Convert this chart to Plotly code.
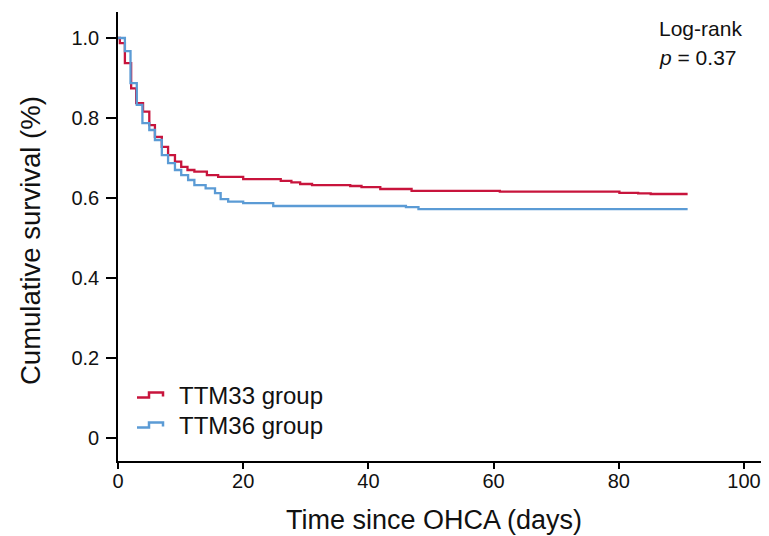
import plotly.graph_objects as go

# ---- data ----
ttm33_days = [0, 0.3, 1.1, 2.1, 2.9, 4.0, 5.0, 5.9, 7.0, 8.0, 9.1, 10.1, 11.1, 12.2, 14.2, 16.0,
              20.0, 26.0, 27.7, 29.1, 31.0, 37.1, 38.9, 41.9, 46.9, 61.0, 80.1, 83.1, 85.1, 91.0]
ttm33_surv = [1.0, 0.987, 0.937, 0.874, 0.837, 0.816, 0.782, 0.753, 0.728, 0.707, 0.691, 0.678, 0.670, 0.666, 0.657, 0.653,
              0.647, 0.643, 0.639, 0.635, 0.632, 0.630, 0.627, 0.6225, 0.618, 0.616, 0.613, 0.6115, 0.610, 0.610]

ttm36_days = [0, 1.1, 2.0, 3.0, 3.9, 5.0, 5.9, 7.0, 8.0, 9.1, 10.1, 11.2, 12.2, 14.0, 15.5, 16.4,
              17.6, 20.0, 24.8, 46.0, 48.0, 91.0]
ttm36_surv = [1.0, 0.967, 0.887, 0.833, 0.787, 0.770, 0.745, 0.707, 0.687, 0.670, 0.657, 0.645, 0.632, 0.624, 0.612, 0.597,
              0.591, 0.587, 0.580, 0.577, 0.572, 0.572]

series_names = ["TTM33 group", "TTM36 group"]
x_ticks = [0, 20, 40, 60, 80, 100]
y_ticks = [0, 0.2, 0.4, 0.6, 0.8, 1.0]
y_tick_labels = ["0", "0.2", "0.4", "0.6", "0.8", "1.0"]

RED = "#C8143C"
BLUE = "#5B9BD5"
FONT = "Liberation Sans, Arial, sans-serif"

OFF = 8  # page body margin
W, H = 769 - OFF, 536 - OFF
ML, MR, MT, MB = 118 - OFF, 0, 12 - OFF, 536 - 461
PW, PH = W - ML - MR, H - MT - MB


def px(x):
    # page pixel -> paper fraction
    return (x - OFF - ML) / PW


def py(y):
    return (H - MB - (y - OFF)) / PH


fig = go.Figure()
fig.add_trace(go.Scatter(x=ttm33_days, y=ttm33_surv, mode="lines", line=dict(color=RED, width=2.3, shape="hv"),
                         name=series_names[0], showlegend=False))
fig.add_trace(go.Scatter(x=ttm36_days, y=ttm36_surv, mode="lines", line=dict(color=BLUE, width=2.3, shape="hv"),
                         name=series_names[1], showlegend=False))

axis_common = dict(showline=True, linecolor="black", linewidth=1.6, ticks="outside", tickwidth=1.5,
                   tickcolor="black", showgrid=False, zeroline=False,
                   tickfont=dict(family=FONT, size=20, color="#111"))
fig.update_xaxes(range=[0, 104], tickvals=x_ticks, ticklen=6, ticklabelstandoff=-5, **axis_common)
fig.update_yaxes(range=[-0.0575, 1.065], tickvals=y_ticks, ticktext=y_tick_labels, ticklen=10,
                 ticklabelstandoff=3, **axis_common)

annotations = [
    dict(text="Time since OHCA (days)", x=px(434), y=py(520), xref="paper", yref="paper", showarrow=False,
         xanchor="center", yanchor="middle", font=dict(family=FONT, size=27, color="#111")),
    dict(text="Cumulative survival (%)", x=px(30), y=py(241), xref="paper", yref="paper", showarrow=False,
         textangle=-90, xanchor="center", yanchor="middle", font=dict(family=FONT, size=27.5, color="#111")),
    dict(text="Log-rank", x=px(657), y=py(29), xref="paper", yref="paper", showarrow=False,
         xanchor="left", yanchor="middle", font=dict(family=FONT, size=21, color="#111")),
    dict(text="<i>p</i> = 0.37", x=px(657), y=py(58), xref="paper", yref="paper", showarrow=False,
         xanchor="left", yanchor="middle", font=dict(family=FONT, size=21, color="#111")),
]

# custom step-shaped legend
legend_rows = [(series_names[0], RED, 395), (series_names[1], BLUE, 425)]
shapes = []
for name, color, cy in legend_rows:
    path = (f"M {px(137)},{py(cy + 2.5)} L {px(149)},{py(cy + 2.5)} L {px(149)},{py(cy - 2.5)} "
            f"L {px(163)},{py(cy - 2.5)} L {px(163)},{py(cy + 1.5)}")
    shapes.append(dict(type="path", path=path, xref="paper", yref="paper", line=dict(color=color, width=2.5)))
    annotations.append(dict(text=name, x=px(177), y=py(cy), xref="paper", yref="paper", showarrow=False,
                            xanchor="left", yanchor="middle", font=dict(family=FONT, size=24, color="#111")))

fig.update_layout(width=W, height=H, margin=dict(l=ML, r=MR, t=MT, b=MB), plot_bgcolor="white",
                  paper_bgcolor="white", annotations=annotations, shapes=shapes, showlegend=False)

fig.write_html("out.html")
